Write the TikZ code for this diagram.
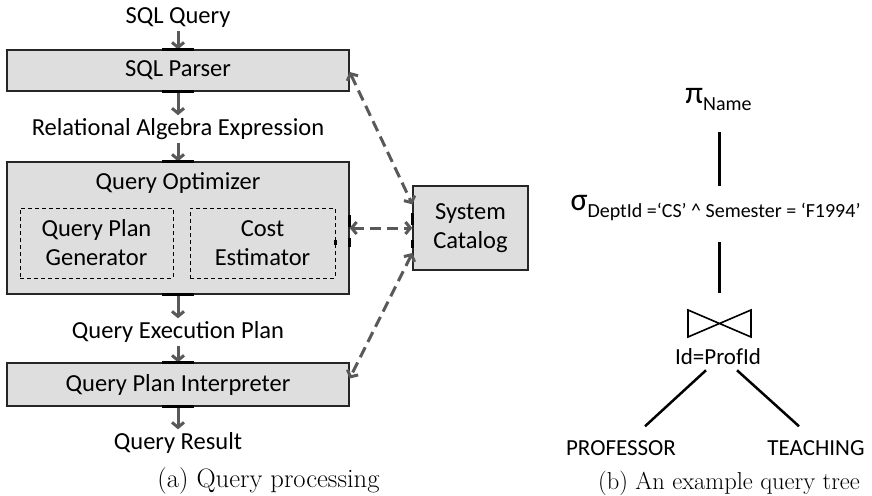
\documentclass[tikz,border=0pt]{standalone}
\usepackage{fontspec}
\newfontfamily\carl{Carlito}
\usetikzlibrary{arrows.meta,calc}
\definecolor{arrowgray}{HTML}{595959}
\definecolor{boxfill}{HTML}{DEDEDE}
\begin{document}
\begin{tikzpicture}[x=1pt,y=-1pt,
  lbl/.style={font=\carl\fontsize{24.5}{29}\selectfont, inner sep=3pt, align=center},
  procbox/.style={draw=black!85, line width=1.3pt, fill=boxfill, minimum width=342pt, inner sep=0pt,
                  font=\carl\fontsize{24.5}{29}\selectfont, align=center},
  subbox/.style={draw=black, dash pattern=on 4pt off 3pt, line width=0.9pt, inner sep=0pt,
                 font=\carl\fontsize{24.5}{29}\selectfont, align=center},
  flow/.style={draw=arrowgray, line width=3pt, -{Straight Barb[length=5pt,width=12pt]}},
  link/.style={draw=arrowgray, line width=3pt, dash pattern=on 11pt off 6pt,
               {Straight Barb[length=5pt,width=12pt]}-{Straight Barb[length=5pt,width=12pt]}},
  tick/.style={line width=3pt, black},
  treetxt/.style={font=\carl\fontsize{23}{27}\selectfont, inner sep=0pt},
  treeline/.style={line width=2.5pt, black},
  capt/.style={font=\fontsize{24.5}{29}\selectfont, inner sep=0pt}
]
\useasboundingbox (0,0) rectangle (872,495);

% ---------- (a) query processing ----------
\node[lbl] (sqlq) at (178,18) {SQL Query};
\node[procbox, minimum height=41pt] (parser) at (178,70.5) {SQL Parser};
\node[lbl] (rae) at (178,129) {Relational Algebra Expression};
\node[procbox, minimum height=132pt] (opt) at (178,228) {};
\node[lbl] (optt) at (178,183) {Query Optimizer};
\node[subbox, minimum width=153pt, minimum height=70pt] (gen) at (96.5,243) {Query Plan\\Generator};
\node[subbox, minimum width=145pt, minimum height=70pt] (cost) at (262.5,243) {Cost\\Estimator};
\node[lbl] (qep) at (178,332) {Query Execution Plan};
\node[procbox, minimum height=43pt] (interp) at (178,384.5) {Query Plan Interpreter};
\node[lbl] (qres) at (178,443) {Query Result};
\node[procbox, minimum width=115pt, minimum height=84pt] (cat) at (470.5,228) {System\\Catalog};
\node[capt, font=\fontsize{26.6}{31}\selectfont] (capa) at (268.5,481) {(a) Query processing};

\draw[flow] (sqlq) -- (parser.north);
\draw[flow] (parser.south) -- (rae);
\draw[flow] (rae) -- (opt.north);
\draw[flow] (opt.south) -- (qep);
\draw[flow] (qep) -- (interp.north);
\draw[flow] (interp.south) -- (qres);

\draw[link] ([yshift=-1.5pt]parser.east) -- ([yshift=-19pt]cat.north west);
\draw[link] (opt.east) -- (cat.west);
\draw[link] ([yshift=-25pt]cat.west) -- ([yshift=6pt]interp.east);

% connection ticks
\foreach \n in {parser.north,parser.south,opt.north,opt.south,interp.north,interp.south}
  \draw[tick] ([xshift=-16pt]\n) -- ([xshift=16pt]\n);
\draw[tick] ([yshift=13pt]opt.east) -- ([yshift=1pt]opt.east);
\draw[tick] ([yshift=-10pt]opt.east) -- ([yshift=-19pt]opt.east);
\draw[tick] ([yshift=15pt]cat.west) -- ([yshift=3pt]cat.west);
\draw[tick] ([yshift=-12pt]cat.west) -- ([yshift=-20pt]cat.west);
\draw[tick] ([yshift=3pt]cost.east) -- ([yshift=-2pt]cost.east);

% ---------- (b) example query tree ----------
\node[treetxt] (pi) at (718.5,100) {{\fontsize{32}{32}\selectfont π}\raisebox{-7pt}{\fontsize{20}{24}\selectfont Name}};
\node[treetxt] (sigma) at (715.5,208) {{\fontsize{32}{32}\selectfont σ}\raisebox{-7pt}{\fontsize{20}{24}\selectfont DeptId =‘CS’ \textasciicircum{} Semester = ‘F1994’}};
\coordinate (join) at (719.5,323.5);
\draw[line width=1.6pt, black] ($(join)+(-31.5,-13.5)$) -- ($(join)+(31.5,13.5)$) -- ($(join)+(31.5,-13.5)$) -- ($(join)+(-31.5,13.5)$) -- cycle;
\node[treetxt] (cond) at (718,357) {Id=ProfId};
\node[treetxt] (prof) at (621,448) {PROFESSOR};
\node[treetxt] (teach) at (816,448) {TEACHING};
\node[capt] (capb) at (729,483) {(b) An example query tree};

\draw[treeline, shorten <=32pt, shorten >=22pt] (pi.center -| join) -- (sigma.center -| join);
\draw[treeline, shorten <=34pt, shorten >=30.5pt] (sigma.center -| join) -- (join);
\draw[treeline] ([xshift=-12pt,yshift=-5pt]cond.south) -- ([xshift=24pt,yshift=14pt]prof.north);
\draw[treeline] ([xshift=19pt,yshift=-5pt]cond.south) -- ([xshift=-17pt,yshift=14pt]teach.north);
\end{tikzpicture}
\end{document}
